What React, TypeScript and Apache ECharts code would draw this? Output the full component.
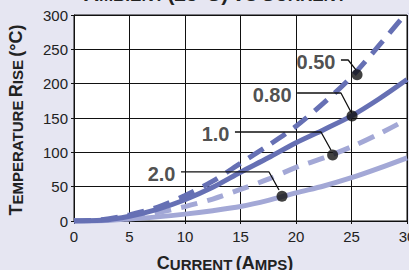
import React, { useEffect, useRef } from "react";
import * as echarts from "echarts";

const currents = [0, 2.5, 5, 7.5, 10, 12.5, 15, 17.5, 20, 22.5, 25, 27.5, 30];
const rise050 = [0, 2, 9, 20, 37, 58, 84, 110, 138, 172, 210, 256, 304];
const rise080 = [0, 1, 7, 17, 31, 49, 71, 92, 114, 133, 153, 178, 206];
const rise10 = [0, 1, 5, 12, 21, 32, 46, 61, 78, 92, 108, 127, 148];
const rise20 = [0, 0.5, 3, 6, 10, 15, 21, 30, 41, 51, 63, 77, 92];

const labelNames = ["0.50", "0.80", "1.0", "2.0"];
const dotX = [25.5, 25.05, 23.3, 18.74];
const dotY = [213, 153, 96, 36];
const leaderX = [
  [24.05, 24.7, 25.4],
  [20.1, 24.05, 24.95],
  [14.5, 22.25, 23.15],
  [9.64, 17.57, 18.47],
];
const leaderY = [
  [234.5, 234.5, 220],
  [186.4, 186.4, 158.7],
  [129.6, 129.6, 103.4],
  [71.4, 71.4, 45.1],
];

const xTicks = [0, 5, 10, 15, 20, 25, 30];
const yTicks = [0, 50, 100, 150, 200, 250, 300];

const DARK = "#6670b4";
const LIGHT = "#a3a8d6";
const FONT = "'Liberation Sans', Arial, Helvetica, sans-serif";

export default function App() {
  const ref = useRef<HTMLDivElement>(null);
  useEffect(() => {
    if (!ref.current) return;
    const chart = echarts.init(ref.current, undefined, { renderer: "svg" });
    const pair = (ys: number[]) => currents.map((x, i) => [x, ys[i]]);
    const curve = (ys: number[], color: string, dashed: boolean, z: number) => ({
      type: "line",
      data: pair(ys),
      smooth: 0.3,
      symbol: "none",
      clip: true,
      z,
      lineStyle: { color, width: 5, type: dashed ? [17, 10] : "solid", cap: "butt" },
    });
    const leaders = labelNames.map((_, k) => ({
      type: "line",
      z: 5,
      symbol: "none",
      lineStyle: { color: "#111", width: 1.3 },
      data: leaderX[k].map((x, i) => [x, leaderY[k][i]]),
    }));
    const small = (size: number) => ({
      fontSize: size,
      fontWeight: "bold",
      fontFamily: FONT,
      fill: "#222",
      verticalAlign: "bottom",
    });
    chart.setOption({
      animation: false,
      backgroundColor: "#e6e6f2",
      grid: {
        left: 74,
        right: 2,
        top: 15,
        bottom: 49,
        outerBoundsMode: "none",
        containLabel: false,
        show: true,
        backgroundColor: "#ffffff",
        borderColor: "#111",
        borderWidth: 1,
      },
      xAxis: {
        type: "value",
        min: xTicks[0],
        max: xTicks[xTicks.length - 1],
        interval: 5,
        axisLine: { show: true, lineStyle: { color: "#111", width: 1 } },
        axisTick: { show: true, length: 3, lineStyle: { color: "#111" } },
        splitLine: { show: true, lineStyle: { color: "#111", width: 1 } },
        axisLabel: { fontSize: 15, color: "#222", fontFamily: FONT, margin: 8 },
      },
      yAxis: {
        type: "value",
        min: yTicks[0],
        max: yTicks[yTicks.length - 1],
        interval: 50,
        axisLine: { show: true, lineStyle: { color: "#111", width: 1 } },
        axisTick: { show: true, length: 3, lineStyle: { color: "#111" } },
        splitLine: { show: true, lineStyle: { color: "#111", width: 1 } },
        axisLabel: { fontSize: 15, color: "#222", fontFamily: FONT, margin: 6 },
      },
      graphic: [
        {
          type: "text",
          x: 215,
          y: 4,
          style: {
            text: "{a|A}{b|MBIENT} {a|(25°C)} {a|V}{b|S} {a|C}{b|URRENT}",
            align: "center",
            verticalAlign: "bottom",
            rich: { a: small(21), b: small(17) },
          },
        },
        {
          type: "text",
          x: 225,
          y: 263,
          style: {
            text: "{a|C}{b|URRENT} {a|(A}{b|MPS}{a|)}",
            align: "center",
            verticalAlign: "middle",
            rich: { a: small(18), b: small(15) },
          },
        },
        {
          type: "text",
          x: 16,
          y: 120,
          rotation: Math.PI / 2,
          style: {
            text: "{a|T}{b|EMPERATURE} {a|R}{b|ISE} {a|(°C)}",
            align: "center",
            verticalAlign: "middle",
            rich: { a: small(18), b: small(15) },
          },
        },
      ],
      series: [
        curve(rise20, LIGHT, false, 2),
        curve(rise10, LIGHT, true, 2),
        curve(rise080, DARK, false, 3),
        curve(rise050, DARK, true, 3),
        ...leaders,
        {
          type: "scatter",
          z: 6,
          symbol: "circle",
          symbolSize: 11,
          itemStyle: { color: "#111" },
          data: dotX.map((x, i) => [x, dotY[i]]),
        },
        {
          type: "scatter",
          z: 6,
          symbolSize: 1,
          itemStyle: { color: "rgba(0,0,0,0)" },
          label: {
            show: true,
            position: "left",
            distance: 5,
            offset: [0, 2],
            formatter: (p: any) => labelNames[p.dataIndex],
            fontSize: 20,
            fontWeight: "bold",
            fontFamily: FONT,
            color: "#222",
          },
          data: leaderX.map((xs, k) => [xs[0], leaderY[k][0]]),
        },
      ],
    });
    return () => chart.dispose();
  }, []);
  return (
    <div
      ref={ref}
      style={{ position: "fixed", left: 0, top: 0, width: 409, height: 270 }}
    />
  );
}
